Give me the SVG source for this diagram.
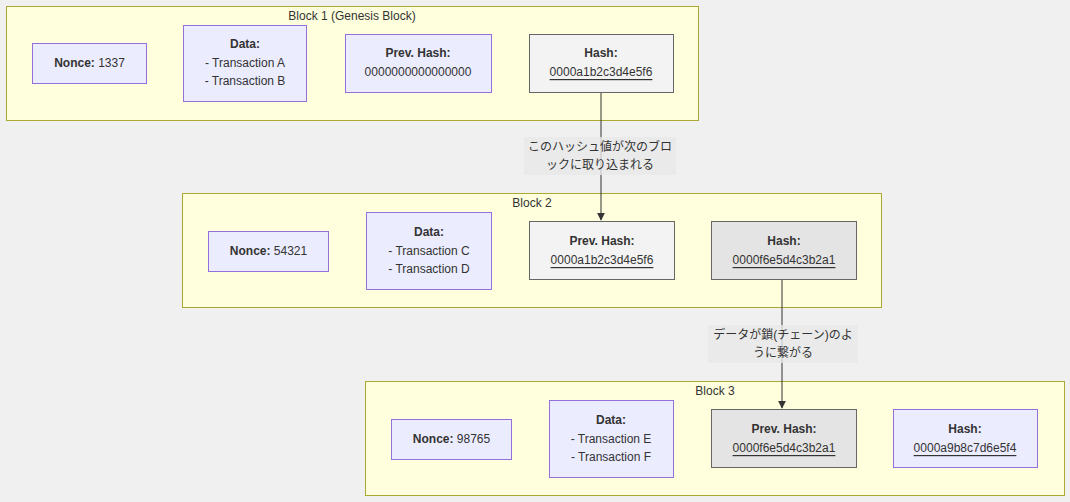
<svg xmlns="http://www.w3.org/2000/svg" width="1070" height="502" viewBox="0 0 1070 502">
<defs>
<marker id="arr" viewBox="0 0 10 10" refX="9" refY="5" markerWidth="8" markerHeight="8" markerUnits="userSpaceOnUse" orient="auto">
<path d="M0,0 L10,5 L0,10 z" fill="#333"/>
</marker>
<style>
text{font-family:"Liberation Sans",Arial,sans-serif;font-size:12px;fill:#333;text-anchor:middle;dominant-baseline:central}
.b{font-weight:bold}
.u{text-decoration:underline}
.cl{fill:#ffffde;stroke:#aaaa33;stroke-width:1}
.n{fill:#ececff;stroke:#9370db;stroke-width:1}
.g1{fill:#f3f3f3;stroke:#666;stroke-width:1}
.g2{fill:#e4e4e4;stroke:#666;stroke-width:1}
.e{fill:none;stroke:#333;stroke-width:1}
.lb{fill:#e8e8e8;opacity:0.8}
.cjk{font-family:"Liberation Sans","Noto Sans CJK JP",sans-serif}
</style>
</defs>
<rect width="1070" height="502" fill="#f0f0f0"/>

<g id="block1">
<rect class="cl" x="6.5" y="6.5" width="692" height="114"/>
<text x="352" y="16">Block 1 (Genesis Block)</text>
</g>
<g id="block2">
<rect class="cl" x="182.5" y="193.5" width="699" height="114"/>
<text x="532" y="203">Block 2</text>
</g>
<g id="block3">
<rect class="cl" x="365.5" y="381.5" width="699" height="114"/>
<text x="715" y="391">Block 3</text>
</g>

<g id="connectors">
<path class="e" d="M601,92 V220" marker-end="url(#arr)"/>
<path class="e" d="M782,279 V408" marker-end="url(#arr)"/>
<rect class="lb" x="524" y="137" width="152" height="38"/>
<text class="cjk" x="600" y="147">このハッシュ値が次のブロ</text>
<text class="cjk" x="600" y="165">ックに取り込まれる</text>
<rect class="lb" x="708" y="325" width="150" height="38"/>
<text class="cjk" x="783" y="335">データが鎖(チェーン)のよ</text>
<text class="cjk" x="783" y="353">うに繋がる</text>
</g>

<g id="nonce1">
<rect class="n" x="32.5" y="43.5" width="114" height="40"/>
<text x="89.5" y="63"><tspan class="b">Nonce:</tspan> 1337</text>
</g>
<g id="data1">
<rect class="n" x="183.5" y="25.5" width="123" height="76"/>
<text class="b" x="245" y="44">Data:</text>
<text x="245" y="63">- Transaction A</text>
<text x="245" y="81">- Transaction B</text>
</g>
<g id="prev1">
<rect class="n" x="345.5" y="34.5" width="146" height="58"/>
<text class="b" x="418" y="53">Prev. Hash:</text>
<text x="418" y="72">0000000000000000</text>
</g>
<g id="hash1">
<rect class="g1" x="529.5" y="34.5" width="144" height="58"/>
<text class="b" x="601" y="53">Hash:</text>
<text class="u" x="601" y="72">0000a1b2c3d4e5f6</text>
</g>

<g id="nonce2">
<rect class="n" x="208.5" y="231.5" width="120" height="40"/>
<text x="268.5" y="251"><tspan class="b">Nonce:</tspan> 54321</text>
</g>
<g id="data2">
<rect class="n" x="366.5" y="212.5" width="125" height="77"/>
<text class="b" x="429" y="232">Data:</text>
<text x="429" y="251">- Transaction C</text>
<text x="429" y="269">- Transaction D</text>
</g>
<g id="prev2">
<rect class="g1" x="529.5" y="221.5" width="145" height="58"/>
<text class="b" x="602" y="241">Prev. Hash:</text>
<text class="u" x="602" y="260">0000a1b2c3d4e5f6</text>
</g>
<g id="hash2">
<rect class="g2" x="711.5" y="221.5" width="145" height="58"/>
<text class="b" x="784" y="241">Hash:</text>
<text class="u" x="784" y="260">0000f6e5d4c3b2a1</text>
</g>

<g id="nonce3">
<rect class="n" x="391.5" y="419.5" width="120" height="40"/>
<text x="451.5" y="439"><tspan class="b">Nonce:</tspan> 98765</text>
</g>
<g id="data3">
<rect class="n" x="549.5" y="400.5" width="124" height="77"/>
<text class="b" x="611" y="420">Data:</text>
<text x="611" y="439">- Transaction E</text>
<text x="611" y="457">- Transaction F</text>
</g>
<g id="prev3">
<rect class="g2" x="711.5" y="409.5" width="145" height="58"/>
<text class="b" x="784" y="429">Prev. Hash:</text>
<text class="u" x="784" y="448">0000f6e5d4c3b2a1</text>
</g>
<g id="hash3">
<rect class="n" x="893.5" y="409.5" width="144" height="58"/>
<text class="b" x="965" y="429">Hash:</text>
<text class="u" x="965" y="448">0000a9b8c7d6e5f4</text>
</g>
</svg>
